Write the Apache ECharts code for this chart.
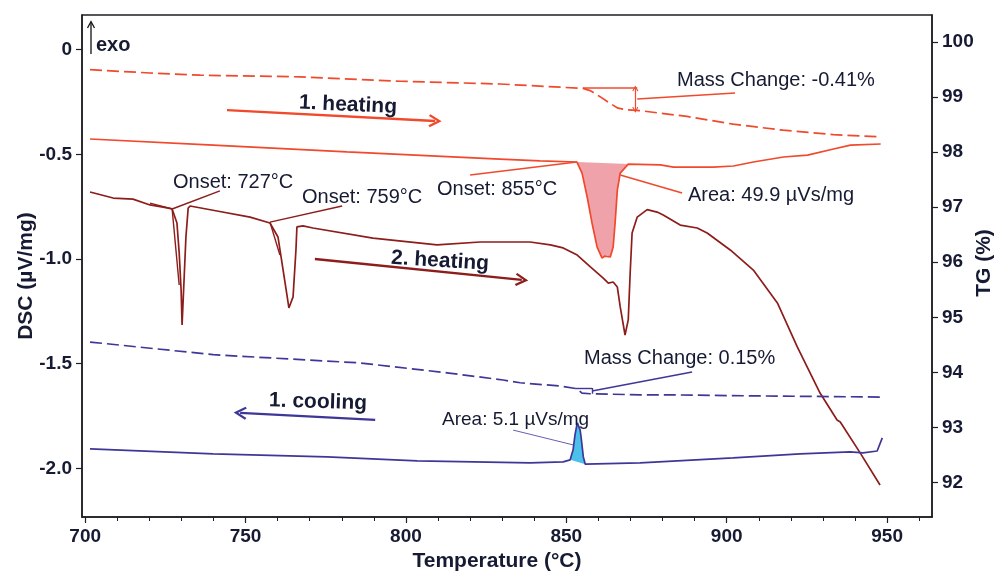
<!DOCTYPE html>
<html><head><meta charset="utf-8">
<script src="https://cdn.jsdelivr.net/npm/echarts@6/dist/echarts.min.js"></script>
<style>html,body{margin:0;padding:0;background:#fff}#c{width:996px;height:575px}</style>
</head><body><div id="c"></div>
<script>
// ---------- axis ranges & ticks ----------
const tempMin = 699, tempMax = 964;
const dscMin = -2.232, dscMax = 0.165;
const tgMin = 91.37, tgMax = 100.494;
const tempTicks = [700, 750, 800, 850, 900, 950];
const tempMinorTicks = [710,720,730,740,760,770,780,790,810,820,830,840,860,870,880,890,910,920,930,940,960];
const dscTicks = [0, -0.5, -1.0, -1.5, -2.0];
const tgTicks = [92, 93, 94, 95, 96, 97, 98, 99, 100];

// ---------- 1. heating: TG (dashed) ----------
const heat1TgT = [701.5,720.2,735.8,767.0,798.2,829.3,855.2,857.4,860.5,863.6,866.1,868.9,873.0,887.6,902.0,917.6,933.2,947.8];
const heat1TgV = [99.50,99.44,99.40,99.37,99.29,99.24,99.16,99.12,99.01,98.89,98.80,98.77,98.755,98.65,98.51,98.40,98.32,98.28];

// ---------- 1. heating: DSC (solid) ----------
const heat1DscT = [701.5,739.9,781.6,829.3,841.8,853.3,854.9,856.5,858.0,859.6,861.1,862.1,862.7,863.7,864.6,865.2,865.9,866.8,869.3,879.3,883.4,895.8,902.1,908.3,917.7,925.2,933.3,938.6,948.0];
const heat1DscV = [-0.427,-0.456,-0.489,-0.523,-0.532,-0.537,-0.590,-0.704,-0.828,-0.943,-0.995,-0.986,-0.981,-0.990,-0.943,-0.828,-0.671,-0.590,-0.547,-0.551,-0.561,-0.561,-0.556,-0.537,-0.513,-0.504,-0.475,-0.456,-0.451];

// ---------- 2. heating: DSC ----------
const heat2DscT = [701.5,708.7,714.9,720.2,724.3,727.1,728.6,729.3,729.9,730.2,730.5,731.4,732.1,732.7,741.1,751.4,757.6,760.1,761.7,762.9,763.5,764.8,765.7,766.0,767.9,771.0,789.7,809.7,823.1,838.7,845.0,849.0,853.4,857.5,861.5,863.1,864.6,865.9,866.8,868.3,869.3,869.9,870.5,872.1,875.2,878.3,880.2,885.5,890.8,893.9,901.1,908.3,915.8,922.0,929.1,934.4,935.4,941.6,947.8];
const heat2DscV = [-0.680,-0.709,-0.714,-0.742,-0.752,-0.761,-0.828,-0.971,-1.148,-1.315,-1.210,-0.895,-0.757,-0.747,-0.771,-0.800,-0.828,-0.895,-1.053,-1.172,-1.234,-1.181,-0.957,-0.847,-0.842,-0.852,-0.900,-0.933,-0.919,-0.919,-0.933,-0.947,-0.981,-1.038,-1.091,-1.115,-1.110,-1.134,-1.229,-1.363,-1.291,-1.067,-0.876,-0.800,-0.764,-0.776,-0.790,-0.838,-0.852,-0.876,-0.957,-1.053,-1.210,-1.420,-1.640,-1.769,-1.778,-1.926,-2.079];

// ---------- 1. cooling: TG (dashed) ----------
const cool1TgT = [701.5,739.9,785.7,812.8,830.3,835.6,848.1,853.4,854.9,857.4,873.0,881.4,910.4,948.5];
const cool1TgV = [94.55,94.32,94.17,93.99,93.86,93.81,93.75,93.70,93.62,93.61,93.59,93.59,93.57,93.55];

// ---------- 1. cooling: DSC ----------
const cool1DscT = [701.5,739.9,775.4,803.5,838.7,849.0,851.2,851.8,852.1,852.7,853.4,853.7,854.3,854.6,855.3,855.9,873.0,902.0,922.9,938.5,942.5,946.9,948.5];
const cool1DscV = [-1.907,-1.931,-1.945,-1.964,-1.974,-1.969,-1.959,-1.926,-1.912,-1.840,-1.783,-1.778,-1.816,-1.850,-1.945,-1.980,-1.974,-1.950,-1.931,-1.921,-1.926,-1.917,-1.854];

// ---------- integrated peak ranges ----------
const area1Range = [853.3, 869.3];
const areaCoolRange = [851.2, 855.9];

// ---------- annotation geometry (data units) ----------
const arrowHeat1 = [[744.2, -0.289], [809.1, -0.341]];
const arrowHeat2 = [[771.6, -1.000], [836.1, -1.100]];
const arrowCool1 = [[790.4, -1.768], [748.3, -1.735]];
const onset727 = {pt: [727.1, -0.761], base: [720.2, -0.733], tan: [729.3, -1.124], lead: [742.0, -0.675]};
const onset759 = {pt: [757.6, -0.824], tan: [760.7, -0.981], lead: [780.1, -0.747]};
const onset855 = {pt: [853.3, -0.537], lead: [820.0, -0.599]};
const area49Lead = [[866.8, -0.599], [886.1, -0.685]];
const area5Lead = [[833.4, -1.817], [852.2, -1.888]];
const mass041 = {ref: [[855.2, 99.177], [872.1, 99.177]], step: [[871.5, 99.16], [871.5, 98.77]], lead: [[872.1, 98.968], [902.6, 99.077]]};
const mass015 = {ref: [[852.8, 93.715], [858.0, 93.715]], step: [[858.0, 93.715], [858.0, 93.61]], lead: [[858.0, 93.66], [889.2, 94.006]]};

// ---------- styles ----------
const FONT = '"Liberation Sans", Arial, Helvetica, sans-serif';
const TXT = '#161b33';
const AX = '#1e1e24';
const C_H1 = '#f0492b', C_H2 = '#8c1d1b', C_C1 = '#3e3798';
const chevron = 'path://M5,0L10,8.6L8.6,9.6L5,3.4L1.4,9.6L0,8.6Z';

function pairs(xs, ys) { return xs.map((x, i) => [x, ys[i]]); }
function between(xs, ys, r) { return pairs(xs, ys).filter(p => p[0] >= r[0] - 1e-9 && p[0] <= r[1] + 1e-9); }
function seg(a, b, o) {
  o = o || {};
  return [
    {coord: a, symbol: o.s0 || 'none', symbolSize: o.ss || 11, lineStyle: {width: o.w || 1.5, color: o.c, type: 'solid'}},
    {coord: b, symbol: o.s1 || 'none', symbolSize: o.ss || 11}
  ];
}
function mk(color, data) {
  return {silent: true, animation: false, symbol: ['none', 'none'], label: {show: false},
    emphasis: {disabled: true}, lineStyle: {color: color, width: 1.5, type: 'solid'}, data: data};
}

const fillHeat1 = between(heat1DscT, heat1DscV, area1Range);
const fillCool1 = between(cool1DscT, cool1DscV, areaCoolRange);

const chart = echarts.init(document.getElementById('c'), null, {renderer: 'canvas'});

function txt(x, y, s, o) {
  o = o || {};
  return {type: 'text', x: x, y: y, rotation: o.rot || 0, z: 100, silent: true,
    style: {text: s, fill: o.fill || TXT, font: (o.bold ? 'bold ' : '') + (o.size || 20) + 'px ' + FONT,
      align: o.align || 'left', verticalAlign: 'middle'}};
}

const lineBase = {type: 'line', showSymbol: false, symbol: 'none', animation: false, silent: true, z: 3};

const option = {
  animation: false,
  backgroundColor: '#ffffff',
  grid: {left: 82, right: 64, top: 15, bottom: 58, show: true, borderColor: AX, borderWidth: 1.5, containLabel: false},
  xAxis: [
    {type: 'value', min: tempMin, max: tempMax, position: 'bottom',
      axisLine: {show: true, onZero: false, lineStyle: {color: AX, width: 1.5}},
      axisTick: {show: true, inside: false, length: 6, customValues: tempTicks, lineStyle: {color: AX, width: 1.2}},
      axisLabel: {customValues: tempTicks, color: TXT, fontFamily: FONT, fontWeight: 'bold', fontSize: 19, margin: 10},
      splitLine: {show: false}},
    {type: 'value', min: tempMin, max: tempMax, position: 'bottom',
      axisLine: {show: false, onZero: false},
      axisTick: {show: true, inside: false, length: 4, customValues: tempMinorTicks, lineStyle: {color: AX, width: 1}},
      axisLabel: {show: false}, splitLine: {show: false}}
  ],
  yAxis: [
    {type: 'value', min: dscMin, max: dscMax, position: 'left',
      axisLine: {show: true, onZero: false, lineStyle: {color: AX, width: 1.5}},
      axisTick: {show: true, inside: false, length: 6, customValues: dscTicks, lineStyle: {color: AX, width: 1.2}},
      axisLabel: {customValues: dscTicks, color: TXT, fontFamily: FONT, fontWeight: 'bold', fontSize: 19, margin: 10,
        formatter: v => (Math.abs(v) < 1e-9 ? '0' : v.toFixed(1))},
      splitLine: {show: false}},
    {type: 'value', min: tgMin, max: tgMax, position: 'right',
      axisLine: {show: true, onZero: false, lineStyle: {color: AX, width: 1.5}},
      axisTick: {show: true, inside: false, length: 6, customValues: tgTicks, lineStyle: {color: AX, width: 1.2}},
      axisLabel: {customValues: tgTicks, color: TXT, fontFamily: FONT, fontWeight: 'bold', fontSize: 19, margin: 10,
        formatter: v => String(Math.round(v))},
      splitLine: {show: false}}
  ],
  series: [
    {type: 'custom', coordinateSystem: 'cartesian2d', xAxisIndex: 0, yAxisIndex: 0, silent: true, z: 1,
      data: [fillHeat1[0]],
      renderItem: (params, api) => ({type: 'polygon', shape: {points: fillHeat1.map(p => api.coord(p))},
        style: {fill: '#efa2a9', stroke: null}})},
    {type: 'custom', coordinateSystem: 'cartesian2d', xAxisIndex: 0, yAxisIndex: 0, silent: true, z: 1,
      data: [fillCool1[0]],
      renderItem: (params, api) => ({type: 'polygon', shape: {points: fillCool1.map(p => api.coord(p))},
        style: {fill: '#4cc0e8', stroke: null}})},
    Object.assign({}, lineBase, {name: '1. heating TG', yAxisIndex: 1, data: pairs(heat1TgT, heat1TgV),
      lineStyle: {color: C_H1, width: 1.7, type: [12, 5]},
      markLine: mk(C_H1, [
        seg(mass041.ref[0], mass041.ref[1], {c: C_H1, w: 1.5}),
        seg(mass041.step[0], mass041.step[1], {c: C_H1, w: 1.2, s0: chevron, s1: chevron, ss: 6}),
        seg(mass041.lead[0], mass041.lead[1], {c: C_H1, w: 1.5})
      ])}),
    Object.assign({}, lineBase, {name: '1. heating DSC', yAxisIndex: 0, data: pairs(heat1DscT, heat1DscV),
      lineStyle: {color: C_H1, width: 1.7},
      markLine: mk(C_H1, [
        seg(arrowHeat1[0], arrowHeat1[1], {c: C_H1, w: 2.4, s1: chevron, ss: 13}),
        seg(onset855.pt, onset855.lead, {c: C_H1, w: 1.5}),
        seg(area49Lead[0], area49Lead[1], {c: C_H1, w: 1.5})
      ])}),
    Object.assign({}, lineBase, {name: '2. heating DSC', yAxisIndex: 0, data: pairs(heat2DscT, heat2DscV),
      lineStyle: {color: C_H2, width: 1.7},
      markLine: mk(C_H2, [
        seg(arrowHeat2[0], arrowHeat2[1], {c: C_H2, w: 2.4, s1: chevron, ss: 13}),
        seg(onset727.base, onset727.pt, {c: C_H2, w: 1.4}),
        seg(onset727.pt, onset727.tan, {c: C_H2, w: 1.4}),
        seg(onset727.pt, onset727.lead, {c: C_H2, w: 1.5}),
        seg(onset759.pt, onset759.tan, {c: C_H2, w: 1.4}),
        seg(onset759.pt, onset759.lead, {c: C_H2, w: 1.5})
      ])}),
    Object.assign({}, lineBase, {name: '1. cooling TG', yAxisIndex: 1, data: pairs(cool1TgT, cool1TgV),
      lineStyle: {color: C_C1, width: 1.7, type: [12, 5]},
      markLine: mk(C_C1, [
        seg(mass015.ref[0], mass015.ref[1], {c: C_C1, w: 1.4}),
        seg(mass015.step[0], mass015.step[1], {c: C_C1, w: 1.4}),
        seg(mass015.lead[0], mass015.lead[1], {c: C_C1, w: 1.5})
      ])}),
    Object.assign({}, lineBase, {name: '1. cooling DSC', yAxisIndex: 0, data: pairs(cool1DscT, cool1DscV),
      lineStyle: {color: C_C1, width: 1.7},
      markLine: mk(C_C1, [
        seg(arrowCool1[0], arrowCool1[1], {c: C_C1, w: 2.4, s1: chevron, ss: 13}),
        seg(area5Lead[0], area5Lead[1], {c: C_C1, w: 0.8})
      ])})
  ],
  graphic: [
    txt(26, 276, 'DSC (µV/mg)', {bold: true, size: 21, align: 'center', rot: Math.PI / 2}),
    txt(984, 263, 'TG (%)', {bold: true, size: 21, align: 'center', rot: Math.PI / 2}),
    txt(497, 561, 'Temperature (°C)', {bold: true, size: 21, align: 'center'}),
    {type: 'line', silent: true, z: 100, shape: {x1: 91, y1: 54, x2: 91, y2: 22}, style: {stroke: '#111', lineWidth: 1.3}},
    {type: 'polyline', silent: true, z: 100, shape: {points: [[87.5, 28], [91, 21.5], [94.5, 28]]}, style: {stroke: '#111', lineWidth: 1.3, fill: null}},
    txt(96, 45, 'exo', {bold: true, size: 20}),
    txt(677, 80, 'Mass Change: -0.41%'),
    txt(173, 182, 'Onset: 727°C'),
    txt(302, 197, 'Onset: 759°C'),
    txt(437, 189, 'Onset: 855°C'),
    txt(688, 195, 'Area: 49.9 µVs/mg'),
    txt(584, 358, 'Mass Change: 0.15%'),
    txt(442, 420, 'Area: 5.1 µVs/mg', {size: 19}),
    txt(348, 105, '1. heating', {bold: true, size: 21, align: 'center', rot: -0.045}),
    txt(440, 261, '2. heating', {bold: true, size: 21, align: 'center', rot: -0.06}),
    txt(318, 402, '1. cooling', {bold: true, size: 21, align: 'center', rot: -0.03})
  ]
};
chart.setOption(option);
</script></body></html>
